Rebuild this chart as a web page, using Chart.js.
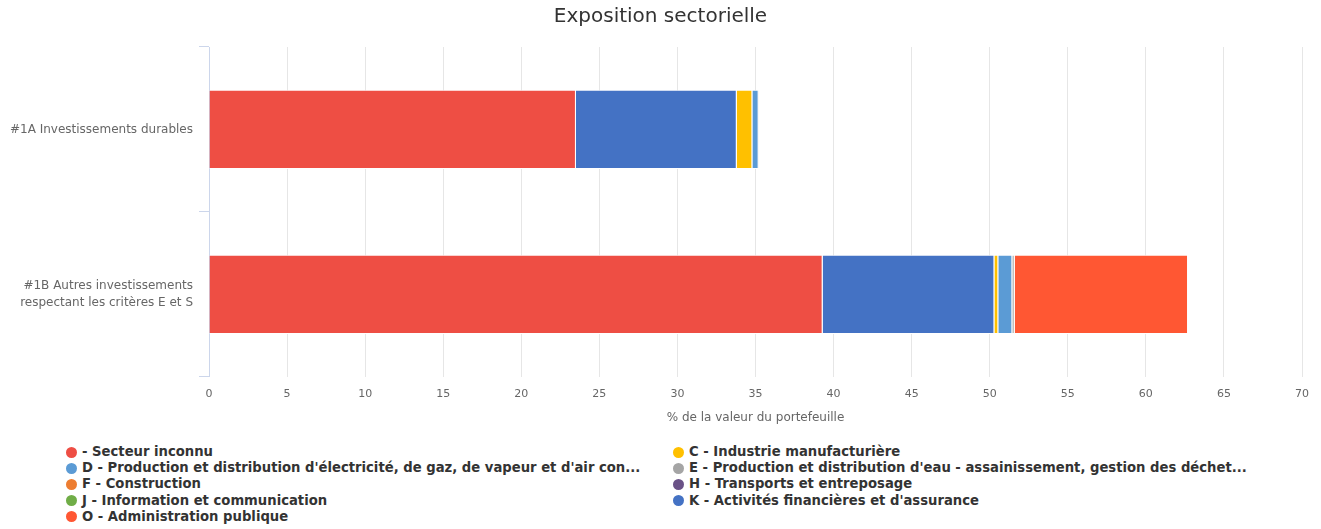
<!DOCTYPE html>
<html>
<head>
<meta charset="utf-8">
<script src="https://cdn.jsdelivr.net/npm/chart.js@4/dist/chart.umd.min.js"></script>
<style>
  body { margin: 0; background: #fff; font-family: "DejaVu Sans", sans-serif; }
  #wrap { position: relative; width: 1321px; height: 430px; }
  #legend {
    position: absolute; top: 444px; left: 66px;
    display: grid; grid-template-columns: 607px 600px;
    font-weight: bold; font-size: 13.2px; color: #333; line-height: 16.2px;
  }
  #legend .item { display: flex; align-items: center; white-space: nowrap; }
  #legend .dot { width: 11px; height: 11px; border-radius: 50%; margin-right: 5px; flex: none; }
</style>
</head>
<body>
<div id="wrap"><canvas id="sectorChart"></canvas></div>
<div id="legend"></div>
<script>
// categories (y axis)
const categories = [
    '#1A Investissements durables',
    ['#1B Autres investissements', 'respectant les critères E et S']
];

// values in % of portfolio, one per category
const secteurInconnu = [23.5, 39.3];
const industrieC     = [1.0, 0.25];
const electriciteD   = [0.4, 0.9];
const eauE           = [0.05, 0.15];
const constructionF  = [0, 0];
const transportsH    = [0, 0];
const informationJ   = [0, 0];
const financeK       = [10.3, 11.0];
const adminO         = [0, 11.1];

const xTicks = [0, 5, 10, 15, 20, 25, 30, 35, 40, 45, 50, 55, 60, 65, 70];

const series = {
    inconnu: { label: '- Secteur inconnu', data: secteurInconnu, color: '#ee4e44' },
    c: { label: 'C - Industrie manufacturière', data: industrieC, color: '#ffc000' },
    d: { label: "D - Production et distribution d'électricité, de gaz, de vapeur et d'air con...", data: electriciteD, color: '#5b9bd5' },
    e: { label: "E - Production et distribution d'eau - assainissement, gestion des déchet...", data: eauE, color: '#a5a5a5' },
    f: { label: 'F - Construction', data: constructionF, color: '#ed7d31' },
    h: { label: 'H - Transports et entreposage', data: transportsH, color: '#6a5287' },
    j: { label: 'J - Information et communication', data: informationJ, color: '#70ad47' },
    k: { label: "K - Activités financières et d'assurance", data: financeK, color: '#4472c4' },
    o: { label: 'O - Administration publique', data: adminO, color: '#ff5733' }
};

// order the segments are stacked in, and order of the legend
const stackOrder = ['inconnu', 'k', 'c', 'd', 'e', 'f', 'h', 'j', 'o'];
const legendOrder = ['inconnu', 'c', 'd', 'e', 'f', 'h', 'j', 'k', 'o'];

Chart.defaults.font.family = '"DejaVu Sans", sans-serif';

const ctx = document.getElementById('sectorChart').getContext('2d');
const sectorChart = new Chart(ctx, {
    type: 'bar',
    data: {
        labels: categories,
        datasets: stackOrder.map(key => ({
            label: series[key].label,
            data: series[key].data,
            backgroundColor: series[key].color,
            borderColor: '#ffffff',
            borderWidth: 1,
            borderSkipped: 'start',
            categoryPercentage: 1,
            barPercentage: 0.48
        }))
    },
    options: {
        indexAxis: 'y',
        responsive: true,
        maintainAspectRatio: false,
        animation: false,
        layout: { padding: { left: 0, right: 0, top: 0, bottom: 6 } },
        plugins: {
            legend: { display: false },
            tooltip: { enabled: false },
            title: {
                display: true,
                text: 'Exposition sectorielle',
                color: '#333333',
                font: { size: 20, weight: 'normal' },
                padding: { top: 5, bottom: 18 }
            }
        },
        scales: {
            x: {
                stacked: true,
                min: 0,
                max: 70,
                afterBuildTicks: scale => { scale.ticks = xTicks.map(v => ({ value: v })); },
                afterFit: scale => { scale.paddingRight = 19; },
                grid: { color: '#e6e6e6', drawTicks: false },
                border: { display: false },
                ticks: { color: '#666666', font: { size: 11 }, padding: 11 },
                title: {
                    display: true,
                    text: '% de la valeur du portefeuille',
                    color: '#666666',
                    font: { size: 12, lineHeight: 1 },
                    padding: { top: 0, bottom: 0 }
                }
            },
            y: {
                stacked: true,
                grid: { drawOnChartArea: false, offset: true, tickLength: 10, color: '#ccd6eb' },
                border: { color: '#ccd6eb' },
                ticks: { color: '#666666', font: { size: 12, lineHeight: 1.35 }, padding: 6 },
                afterFit: scale => { scale.width = 209; }
            }
        }
    }
});

// html legend in two columns
const legendEl = document.getElementById('legend');
legendOrder.forEach(key => {
    const item = document.createElement('div');
    item.className = 'item';
    const dot = document.createElement('span');
    dot.className = 'dot';
    dot.style.background = series[key].color;
    const txt = document.createElement('span');
    txt.textContent = series[key].label;
    item.appendChild(dot);
    item.appendChild(txt);
    legendEl.appendChild(item);
});
</script>
</body>
</html>
